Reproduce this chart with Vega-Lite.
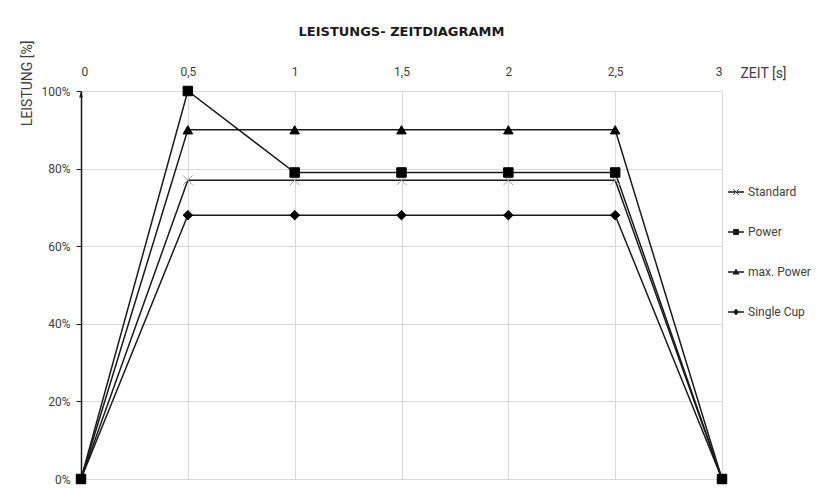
{
  "$schema": "https://vega.github.io/schema/vega-lite/v6.json",
  "width": 641,
  "height": 388,
  "autosize": {"type": "none"},
  "padding": {"left": 81, "top": 91, "right": 103, "bottom": 11},
  "background": "white",
  "config": {
    "view": {"stroke": null},
    "font": "Roboto",
    "axis": {"labelFont": "Roboto", "titleFont": "Roboto", "labelColor": "#404040", "titleColor": "#404040", "gridColor": "#d9d9d9", "gridWidth": 1}
  },
  "title": {
    "text": "LEISTUNGS- ZEITDIAGRAMM",
    "font": "DejaVu Sans",
    "fontSize": 13,
    "fontWeight": "bold",
    "color": "#1a1a1a",
    "anchor": "middle",
    "frame": "group",
    "offset": 1
  },
  "datasets": {
    "series": [
      {"t": 0, "p": 0, "s": "Standard"},
      {"t": 0.5, "p": 77, "s": "Standard"},
      {"t": 1, "p": 77, "s": "Standard"},
      {"t": 1.5, "p": 77, "s": "Standard"},
      {"t": 2, "p": 77, "s": "Standard"},
      {"t": 2.5, "p": 77, "s": "Standard"},
      {"t": 3, "p": 0, "s": "Standard"},
      {"t": 0, "p": 0, "s": "max. Power"},
      {"t": 0.5, "p": 90, "s": "max. Power"},
      {"t": 1, "p": 90, "s": "max. Power"},
      {"t": 1.5, "p": 90, "s": "max. Power"},
      {"t": 2, "p": 90, "s": "max. Power"},
      {"t": 2.5, "p": 90, "s": "max. Power"},
      {"t": 3, "p": 0, "s": "max. Power"},
      {"t": 0, "p": 0, "s": "Single Cup"},
      {"t": 0.5, "p": 68, "s": "Single Cup"},
      {"t": 1, "p": 68, "s": "Single Cup"},
      {"t": 1.5, "p": 68, "s": "Single Cup"},
      {"t": 2, "p": 68, "s": "Single Cup"},
      {"t": 2.5, "p": 68, "s": "Single Cup"},
      {"t": 3, "p": 0, "s": "Single Cup"},
      {"t": 0, "p": 0, "s": "Power"},
      {"t": 0.5, "p": 100, "s": "Power"},
      {"t": 1, "p": 79, "s": "Power"},
      {"t": 1.5, "p": 79, "s": "Power"},
      {"t": 2, "p": 79, "s": "Power"},
      {"t": 2.5, "p": 79, "s": "Power"},
      {"t": 3, "p": 0, "s": "Power"}
    ],
    "arrow": [{"t": 0, "p": 100}]
  },
  "layer": [
    {
      "data": {"name": "series"},
      "mark": {"type": "line", "color": "#1a1a1a", "strokeWidth": 1.5},
      "encoding": {
        "x": {
          "field": "t", "type": "quantitative",
          "scale": {"domain": [0, 3], "nice": false, "zero": false},
          "axis": {
            "orient": "top", "values": [0, 0.5, 1, 1.5, 2, 2.5, 3],
            "labelExpr": "replace(toString(datum.value), '.', ',')",
            "ticks": false, "tickSize": 0, "domain": false, "grid": true,
            "labelFontSize": 12, "labelPadding": 13,
            "title": "ZEIT [s]", "titleFontSize": 14, "titleFontWeight": "normal",
            "titleX": 682, "titleY": -18, "titleAlign": "center", "titleBaseline": "middle", "titleAngle": 0
          }
        },
        "y": {
          "field": "p", "type": "quantitative",
          "scale": {"domain": [0, 100], "nice": false},
          "axis": {
            "values": [0, 20, 40, 60, 80, 100],
            "labelExpr": "datum.value + '%'",
            "ticks": true, "tickSize": 5, "tickColor": "#1a1a1a", "tickWidth": 1,
            "domain": true, "domainColor": "#1a1a1a", "domainWidth": 1.5, "grid": true,
            "labelFontSize": 12, "labelPadding": 6,
            "title": "LEISTUNG [%]", "titleFontSize": 14, "titleFontWeight": "normal",
            "titleX": -54, "titleY": -51, "titleAngle": -90, "titleAlign": "right", "titleBaseline": "middle"
          }
        },
        "detail": {"field": "s"}
      }
    },
    {
      "data": {"name": "series"},
      "mark": {"type": "point", "filled": true, "size": 90, "strokeWidth": 1, "opacity": 1},
      "encoding": {
        "x": {"field": "t", "type": "quantitative"},
        "y": {"field": "p", "type": "quantitative"},
        "shape": {
          "field": "s", "type": "nominal",
          "scale": {
            "domain": ["Standard", "Power", "max. Power", "Single Cup"],
            "range": ["M-1,-1L1,1M-1,1L1,-1", "square", "triangle-up", "diamond"]
          },
          "legend": null
        },
        "fill": {
          "field": "s", "type": "nominal",
          "scale": {"domain": ["Standard", "Power", "max. Power", "Single Cup"], "range": ["#999999", "#000000", "#000000", "#000000"]},
          "legend": null
        },
        "stroke": {
          "field": "s", "type": "nominal",
          "scale": {"domain": ["Standard", "Power", "max. Power", "Single Cup"], "range": ["#999999", "#000000", "#000000", "#000000"]},
          "legend": null
        }
      }
    },
    {
      "data": {"name": "series"},
      "transform": [{"filter": "false"}],
      "mark": {"type": "point", "filled": true, "color": "#1a1a1a", "opacity": 1},
      "encoding": {
        "x": {"field": "t", "type": "quantitative"},
        "y": {"field": "p", "type": "quantitative"},
        "shape": {
          "field": "s", "type": "nominal",
          "scale": {
            "domain": ["Standard", "Power", "max. Power", "Single Cup"],
            "range": [
              "M-1,-0.08H1V0.08H-1Z M-0.36,-0.3L-0.3,-0.36L0.36,0.3L0.3,0.36Z M-0.36,0.3L-0.3,0.36L0.36,-0.3L0.3,-0.36Z",
              "M-1,-0.08H1V0.08H-1Z M-0.36,-0.36H0.36V0.36H-0.36Z",
              "M-1,-0.08H1V0.08H-1Z M0,-0.45L0.45,0.32H-0.45Z",
              "M-1,-0.08H1V0.08H-1Z M0,-0.42L0.42,0L0,0.42L-0.42,0Z"
            ]
          },
          "legend": {
            "title": null, "orient": "none", "legendX": 646, "legendY": 92,
            "symbolSize": 256, "rowPadding": 25, "labelOffset": 3,
            "symbolFillColor": "#1a1a1a", "symbolStrokeColor": "#1a1a1a", "symbolOpacity": 1,
            "labelFont": "Roboto", "labelFontSize": 12, "labelColor": "#404040"
          }
        }
      }
    },
    {
      "data": {"name": "arrow"},
      "mark": {"type": "point", "filled": true, "size": 64, "color": "#1a1a1a", "shape": "M0,0L0.45,1.6H-0.45Z", "opacity": 1},
      "encoding": {
        "x": {"field": "t", "type": "quantitative"},
        "y": {"field": "p", "type": "quantitative"}
      }
    }
  ],
  "resolve": {"scale": {"shape": "independent"}}
}
